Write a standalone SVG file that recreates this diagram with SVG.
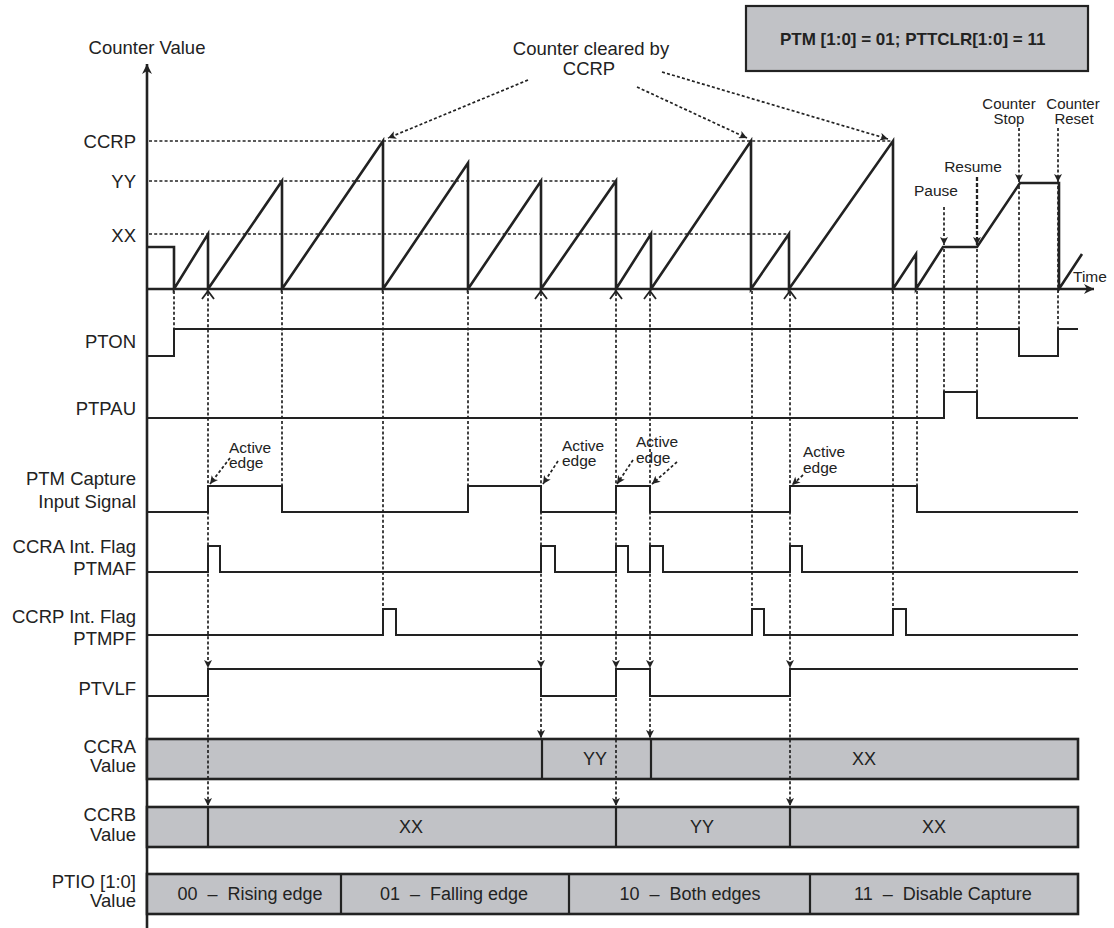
<svg xmlns="http://www.w3.org/2000/svg" width="1114" height="928" viewBox="0 0 1114 928">
<style>
text{font-family:"Liberation Sans",Arial,sans-serif;fill:#222}
.lbl{font-size:18.5px;text-anchor:end}
.sm{font-size:15.5px}
.xs{font-size:15px}
.mid{text-anchor:middle}
.cnt{fill:none;stroke:#222;stroke-width:2.6;stroke-linejoin:miter}
.sig{fill:none;stroke:#222;stroke-width:2}
.axis{stroke:#222;stroke-width:2.6;fill:none}
.dot{stroke:#222;stroke-width:1.7;stroke-dasharray:3 2.2;fill:none}
.dotb{stroke:#222;stroke-width:2.3;stroke-dasharray:4 2;fill:none}
.chev{stroke:#222;stroke-width:1.8;fill:none}
.box{fill:#c1c2c6;stroke:#222;stroke-width:2.6}
.div{stroke:#222;stroke-width:2.2}
.bt{font-size:18px;text-anchor:middle}
</style>
<defs>
<marker id="ah" viewBox="0 0 10 10" refX="10" refY="5" markerWidth="9" markerHeight="8" markerUnits="userSpaceOnUse" orient="auto"><path d="M0,0 L10,5 L0,10 L2.5,5 z" fill="#222"/></marker>
<marker id="axh" viewBox="0 0 10 10" refX="10" refY="5" markerWidth="12" markerHeight="10" markerUnits="userSpaceOnUse" orient="auto"><path d="M0,0 L10,5 L0,10 L3,5 z" fill="#222"/></marker>
</defs>
<rect width="1114" height="928" fill="#fff"/>

<g id="mode-box">
<rect x="746" y="6" width="342" height="65" fill="#c1c2c6" stroke="#222" stroke-width="2.2"/>
<text x="780" y="45" style="font-size:17px;font-weight:bold">PTM [1:0] = 01; PTTCLR[1:0] = 11</text>
</g>

<g id="axes">
<line class="axis" x1="147" y1="928" x2="147" y2="64" marker-end="url(#axh)"/>
<line class="axis" x1="147" y1="289" x2="1094" y2="289" marker-end="url(#axh)"/>
<text x="147" y="54" class="mid" style="font-size:18.5px">Counter Value</text>
<text x="1073" y="282" class="sm">Time</text>
</g>

<g id="levels">
<line class="dot" x1="149" y1="141" x2="892" y2="141"/>
<line class="dot" x1="149" y1="181" x2="616" y2="181"/>
<line class="dot" x1="149" y1="234" x2="789" y2="234"/>
<text x="136" y="148" class="lbl">CCRP</text>
<text x="136" y="188" class="lbl">YY</text>
<text x="136" y="242" class="lbl">XX</text>
</g>

<g id="counter">
<path class="cnt" d="M147,247 H174 V289 L208,234 V289 L282,181 V289 L383,141 V289 L468,163 V289 L541,181 V289 L616,181 V289 L651,234 V289 L751,141 V289 L789,234 V289 L893,141 V289 L916,254 V289 L943,247 H977 L1020,183 H1059 V289 L1082,254"/>
</g>

<g id="annotations">
<text x="591" y="55" class="mid" style="font-size:18.5px">Counter cleared by</text>
<text x="589" y="75" class="mid" style="font-size:18.5px">CCRP</text>
<text x="936" y="196" class="sm mid">Pause</text>
<text x="973" y="172" class="sm mid">Resume</text>
<text x="1009" y="109" class="xs mid">Counter</text>
<text x="1009" y="124" class="xs mid">Stop</text>
<text x="1073" y="109" class="xs mid">Counter</text>
<text x="1074" y="124" class="xs mid">Reset</text>
<text x="229" y="453" class="sm">Active</text>
<text x="229" y="468" class="sm">edge</text>
<text x="562" y="451" class="sm">Active</text>
<text x="562" y="466" class="sm">edge</text>
<text x="636" y="447" class="sm">Active</text>
<text x="636" y="463" class="sm">edge</text>
<text x="803" y="457" class="sm">Active</text>
<text x="803" y="473" class="sm">edge</text>
</g>

<g id="PTON">
<text x="136" y="348" class="lbl">PTON</text>
<path class="sig" d="M147,356 H174 V329 H1019 V356 H1058 V329 H1078"/>
</g>
<g id="PTPAU">
<text x="136" y="415" class="lbl">PTPAU</text>
<path class="sig" d="M147,418 H944 V392 H977 V418 H1078"/>
</g>
<g id="capture-input">
<text x="136" y="485" class="lbl">PTM Capture</text>
<text x="136" y="508" class="lbl">Input Signal</text>
<path class="sig" d="M147,512 H208 V486 H282 V512 H468 V486 H541 V512 H616 V486 H650 V512 H790 V486 H917 V512 H1078"/>
</g>
<g id="PTMAF">
<text x="136" y="553" class="lbl">CCRA Int. Flag</text>
<text x="136" y="575" class="lbl">PTMAF</text>
<path class="sig" d="M147,572 H208 V546 H220 V572 H541 V546 H555 V572 H616 V546 H628 V572 H650 V546 H663 V572 H790 V546 H802 V572 H1078"/>
</g>
<g id="PTMPF">
<text x="136" y="623" class="lbl">CCRP Int. Flag</text>
<text x="136" y="645" class="lbl">PTMPF</text>
<path class="sig" d="M147,635 H383 V609 H396 V635 H752 V609 H764 V635 H893 V609 H906 V635 H1078"/>
</g>
<g id="PTVLF">
<text x="136" y="695" class="lbl">PTVLF</text>
<path class="sig" d="M147,696 H208 V669 H541 V696 H616 V669 H650 V696 H790 V669 H1078"/>
</g>
<g id="CCRA">
<text x="136" y="753" class="lbl">CCRA</text>
<text x="136" y="772" class="lbl">Value</text>
<rect class="box" x="147" y="739" width="931" height="40"/>
<line class="div" x1="542" y1="739" x2="542" y2="779"/>
<line class="div" x1="651" y1="739" x2="651" y2="779"/>
<text x="595" y="765" class="bt">YY</text>
<text x="864" y="765" class="bt">XX</text>
</g>
<g id="CCRB">
<text x="136" y="821" class="lbl">CCRB</text>
<text x="136" y="841" class="lbl">Value</text>
<rect class="box" x="147" y="807" width="931" height="40"/>
<line class="div" x1="208" y1="807" x2="208" y2="847"/>
<line class="div" x1="616" y1="807" x2="616" y2="847"/>
<line class="div" x1="790" y1="807" x2="790" y2="847"/>
<text x="411" y="833" class="bt">XX</text>
<text x="702" y="833" class="bt">YY</text>
<text x="934" y="833" class="bt">XX</text>
</g>
<g id="PTIO">
<text x="136" y="888" class="lbl">PTIO [1:0]</text>
<text x="136" y="907" class="lbl">Value</text>
<rect class="box" x="147" y="874" width="931" height="40"/>
<line class="div" x1="341" y1="874" x2="341" y2="914"/>
<line class="div" x1="569" y1="874" x2="569" y2="914"/>
<line class="div" x1="810" y1="874" x2="810" y2="914"/>
<text x="250" y="900" class="bt" xml:space="preserve">00  –  Rising edge</text>
<text x="454" y="900" class="bt" xml:space="preserve">01  –  Falling edge</text>
<text x="690" y="900" class="bt" xml:space="preserve">10  –  Both edges</text>
<text x="943" y="900" class="bt" xml:space="preserve">11  –  Disable Capture</text>
</g>

<g id="connectors">
<line class="dot" x1="528" y1="80" x2="388" y2="138" marker-end="url(#ah)"/>
<line class="dot" x1="637" y1="87" x2="747" y2="138" marker-end="url(#ah)"/>
<line class="dot" x1="662" y1="72" x2="888" y2="139" marker-end="url(#ah)"/>
<line class="dot" x1="944" y1="207" x2="944" y2="245" marker-end="url(#ah)"/>
<line class="dot" x1="944" y1="249" x2="944" y2="392"/>
<line class="dotb" x1="977" y1="177" x2="977" y2="245" marker-end="url(#ah)"/>
<line class="dot" x1="977" y1="249" x2="977" y2="392"/>
<line class="dot" x1="1019" y1="128" x2="1019" y2="182" marker-end="url(#ah)"/>
<line class="dot" x1="1019" y1="186" x2="1019" y2="329"/>
<line class="dot" x1="1058" y1="128" x2="1058" y2="182" marker-end="url(#ah)"/>
<line class="dot" x1="1058" y1="186" x2="1058" y2="329"/>
<line class="dot" x1="174" y1="291" x2="174" y2="329"/>
<line class="dot" x1="282" y1="291" x2="282" y2="486"/>
<line class="dot" x1="383" y1="291" x2="383" y2="609"/>
<line class="dot" x1="468" y1="291" x2="468" y2="486"/>
<line class="dot" x1="752" y1="291" x2="752" y2="609"/>
<line class="dot" x1="893" y1="291" x2="893" y2="609"/>
<line class="dot" x1="917" y1="291" x2="917" y2="486"/>
<path class="chev" d="M202,299 L208,291 L214,299 M535,299 L541,291 L547,299 M610,299 L616,291 L622,299 M644,299 L650,291 L656,299 M784,299 L790,291 L796,299"/>
<line class="dot" x1="208" y1="293" x2="208" y2="668" marker-end="url(#ah)"/>
<line class="dot" x1="208" y1="672" x2="208" y2="806" marker-end="url(#ah)"/>
<line class="dot" x1="541" y1="293" x2="541" y2="668" marker-end="url(#ah)"/>
<line class="dot" x1="541" y1="698" x2="541" y2="738" marker-end="url(#ah)"/>
<line class="dot" x1="616" y1="293" x2="616" y2="668" marker-end="url(#ah)"/>
<line class="dot" x1="616" y1="672" x2="616" y2="806" marker-end="url(#ah)"/>
<line class="dot" x1="650" y1="293" x2="650" y2="668" marker-end="url(#ah)"/>
<line class="dot" x1="650" y1="698" x2="650" y2="738" marker-end="url(#ah)"/>
<line class="dot" x1="790" y1="293" x2="790" y2="668" marker-end="url(#ah)"/>
<line class="dot" x1="790" y1="672" x2="790" y2="806" marker-end="url(#ah)"/>
<line class="dot" x1="230" y1="458" x2="210" y2="484" marker-end="url(#ah)"/>
<line class="dot" x1="558" y1="461" x2="543" y2="484" marker-end="url(#ah)"/>
<line class="dot" x1="633" y1="460" x2="617" y2="484" marker-end="url(#ah)"/>
<line class="dot" x1="677" y1="462" x2="652" y2="484" marker-end="url(#ah)"/>
<line class="dot" x1="803" y1="475" x2="792" y2="485" marker-end="url(#ah)"/>
</g>
</svg>
